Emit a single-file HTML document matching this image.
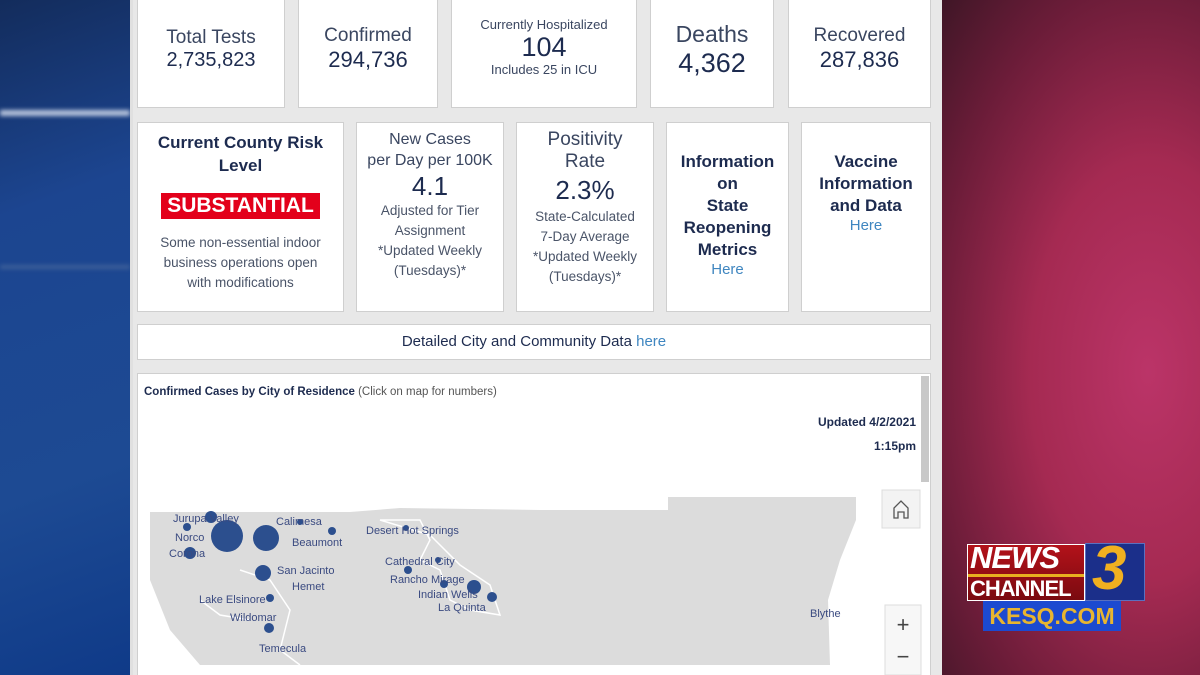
<!DOCTYPE html>
<html><head><meta charset="utf-8"><style>
*{margin:0;padding:0;box-sizing:border-box}
html{width:1200px;height:675px;overflow:hidden}
body{width:1200px;height:675px;overflow:hidden;position:relative;font-family:"Liberation Sans",sans-serif;background:#000}
.a{position:absolute}
.card{position:absolute;background:#fff;border:1px solid #cfcfcf;text-align:center;color:#1d2b4f}
.lbl{font-size:19px;color:#3a4660}
.num{font-size:22px;color:#1d2b4f}
.sm{font-size:13.5px;color:#4a5468;line-height:20px}
.b{font-weight:bold;font-size:17px;line-height:22px;color:#1d2b4f}
.link{color:#3f86c0}
.mt{font-size:11px;fill:#3a4a80;font-family:"Liberation Sans",sans-serif}
</style></head><body>
<div class="a" style="left:0;top:0;width:135px;height:675px;background:linear-gradient(160deg,#132c5c 0%,#1c4590 30%,#1d4a93 70%,#0f3a88 100%)"></div>
<div class="a" style="left:0;top:110px;width:130px;height:6px;background:#b7c4dc;filter:blur(2px)"></div>
<div class="a" style="left:0;top:265px;width:130px;height:4px;background:#3e6099;filter:blur(2px)"></div>
<div class="a" style="left:940px;top:0;width:260px;height:675px;background:radial-gradient(ellipse at 80% 55%,#bb3468 0%,#a52a52 40%,#6a1c38 75%,#3e1626 100%)"></div>
<div class="a" style="left:130px;top:0;width:812px;height:675px;background:#e8e8e8;border-left:3px solid #e0e0e0"></div>

<div class="card" style="left:137px;top:-2px;width:148px;height:110px;padding-top:28px"><div class="lbl">Total Tests</div><div class="num" style="font-size:20px">2,735,823</div></div>
<div class="card" style="left:298px;top:-2px;width:140px;height:110px;padding-top:26px"><div class="lbl">Confirmed</div><div class="num">294,736</div></div>
<div class="card" style="left:451px;top:-2px;width:186px;height:110px;padding-top:18px"><div style="font-size:13px;color:#3a4660">Currently Hospitalized</div><div class="num" style="font-size:27px;line-height:30px">104</div><div style="font-size:13px;color:#3a4660">Includes 25 in ICU</div></div>
<div class="card" style="left:650px;top:-2px;width:124px;height:110px;padding-top:22px"><div style="font-size:23px;color:#3a4660">Deaths</div><div class="num" style="font-size:27px">4,362</div></div>
<div class="card" style="left:788px;top:-2px;width:143px;height:110px;padding-top:26px"><div class="lbl">Recovered</div><div class="num">287,836</div></div>

<div class="card" style="left:137px;top:122px;width:207px;height:190px;padding-top:8px"><div class="b" style="line-height:23px">Current County Risk<br>Level</div><div style="display:inline-block;background:#e3001b;color:#fff;font-size:21px;font-weight:bold;padding:1px 6px;margin:16px 0 14px">SUBSTANTIAL</div><div class="sm">Some non-essential indoor<br>business operations open<br>with modifications</div></div>
<div class="card" style="left:356px;top:122px;width:148px;height:190px;padding-top:6px"><div style="font-size:16px;color:#3a4660;line-height:21px">New Cases<br>per Day per 100K</div><div class="num" style="font-size:26px;line-height:30px">4.1</div><div class="sm">Adjusted for Tier<br>Assignment<br>*Updated Weekly<br>(Tuesdays)*</div></div>
<div class="card" style="left:516px;top:122px;width:138px;height:190px;padding-top:6px"><div style="font-size:19px;color:#3a4660;line-height:22px">Positivity<br>Rate</div><div class="num" style="font-size:26px;line-height:34px">2.3%</div><div class="sm">State-Calculated<br>7-Day Average<br>*Updated Weekly<br>(Tuesdays)*</div></div>
<div class="card" style="left:666px;top:122px;width:123px;height:190px;padding-top:28px"><div class="b">Information<br>on<br>State<br>Reopening<br>Metrics</div><div class="link" style="font-size:15px">Here</div></div>
<div class="card" style="left:801px;top:122px;width:130px;height:190px;padding-top:28px"><div class="b">Vaccine<br>Information<br>and Data</div><div class="link" style="font-size:15px">Here</div></div>

<div class="card" style="left:137px;top:324px;width:794px;height:36px;line-height:34px;font-size:15px;color:#1d2b4f">Detailed City and Community Data <span class="link">here</span></div>

<div class="card" style="left:137px;top:373px;width:794px;height:302px;text-align:left;border-bottom:none">
<div class="a" style="left:6px;top:12px;font-size:11.5px;color:#1d2b4f;font-weight:bold">Confirmed Cases by City of Residence <span style="font-weight:normal;color:#555">(Click on map for numbers)</span></div>
<div class="a" style="right:14px;top:36px;font-size:12px;color:#1d2b4f;font-weight:bold;text-align:right;line-height:24px">Updated 4/2/2021<br>1:15pm</div>
<div class="a" style="left:783px;top:2px;width:8px;height:106px;background:#c8c8c8"></div>
</div>

<svg class="a" style="left:0;top:0" width="1200" height="675">
<polygon points="150,512 350,512 400,508 540,510 668,510 668,497 856,497 856,520 840,560 828,600 830,665 200,665 170,630 150,580" fill="#dcdcdc"/>
<g fill="none" stroke="#fff" stroke-width="1.5">
<path d="M380,520 l40,0 l10,20 l-10,20 l20,10 l10,30 l20,10 l30,5 l-10,-30 l-30,-20 l-30,-30 z"/>
<path d="M240,570 l30,10 l20,30 l-10,40 l20,15 M200,600 l20,15 l30,5"/>
</g>
<g fill="#2c4f8e">
<circle cx="211" cy="517" r="6"/><circle cx="187" cy="527" r="4"/><circle cx="227" cy="536" r="16"/><circle cx="266" cy="538" r="13"/><circle cx="190" cy="553" r="6"/><circle cx="332" cy="531" r="4"/><circle cx="263" cy="573" r="8"/><circle cx="270" cy="598" r="4"/><circle cx="269" cy="628" r="5"/><circle cx="408" cy="570" r="4"/><circle cx="444" cy="584" r="4"/><circle cx="474" cy="587" r="7"/><circle cx="492" cy="597" r="5"/><circle cx="300" cy="522" r="3"/><circle cx="406" cy="528" r="3"/><circle cx="438" cy="560" r="3"/>
</g>
<g class="mt">
<text x="173" y="522" class="mt">Jurupa Valley</text><text x="175" y="541" class="mt">Norco</text><text x="169" y="557" class="mt">Corona</text>
<text x="276" y="525" class="mt">Calimesa</text><text x="292" y="546" class="mt">Beaumont</text><text x="277" y="574" class="mt">San Jacinto</text><text x="292" y="590" class="mt">Hemet</text>
<text x="199" y="603" class="mt">Lake Elsinore</text><text x="230" y="621" class="mt">Wildomar</text><text x="259" y="652" class="mt">Temecula</text>
<text x="366" y="534" class="mt">Desert Hot Springs</text><text x="385" y="565" class="mt">Cathedral City</text><text x="390" y="583" class="mt">Rancho Mirage</text><text x="418" y="598" class="mt">Indian Wells</text><text x="438" y="611" class="mt">La Quinta</text><text x="810" y="617" class="mt">Blythe</text>
</g>
<rect x="882" y="490" width="38" height="38" fill="#f3f3f3" stroke="#ddd"/>
<path d="M894,518 v-10 l7,-7 l7,7 v10 h-4 v-6 h-6 v6 z" fill="none" stroke="#555" stroke-width="1.3"/>
<rect x="885" y="605" width="36" height="70" fill="#f7f7f7" stroke="#ddd"/>
<text x="903" y="632" text-anchor="middle" font-size="22" fill="#444" font-family="Liberation Sans">+</text>
<text x="903" y="664" text-anchor="middle" font-size="22" fill="#444" font-family="Liberation Sans">−</text>
</svg>

<div class="a" style="left:967px;top:544px;width:118px;height:57px;background:linear-gradient(#b3121a,#7a0a10);border:1px solid #fff"></div>
<div class="a" style="left:970px;top:540px;font:italic bold 31px 'Liberation Sans',sans-serif;color:#fff;letter-spacing:-1px">NEWS</div>
<div class="a" style="left:968px;top:574px;width:116px;height:3px;background:#e8b020"></div>
<div class="a" style="left:970px;top:576px;font:bold 22px 'Liberation Sans',sans-serif;color:#fff;letter-spacing:-1px">CHANNEL</div>
<div class="a" style="left:1085px;top:543px;width:60px;height:58px;background:#1b2f8a;border:1px solid #5a70c0"></div>
<div class="a" style="left:1092px;top:536px;font:italic bold 62px 'Liberation Sans',sans-serif;color:#f0b020;line-height:66px">3</div>
<div class="a" style="left:983px;top:601px;width:138px;height:30px;background:#1c4ad0;color:#e8b530;font:bold 23px 'Liberation Sans',sans-serif;text-align:center;line-height:30px">KESQ.COM</div>
</body></html>
